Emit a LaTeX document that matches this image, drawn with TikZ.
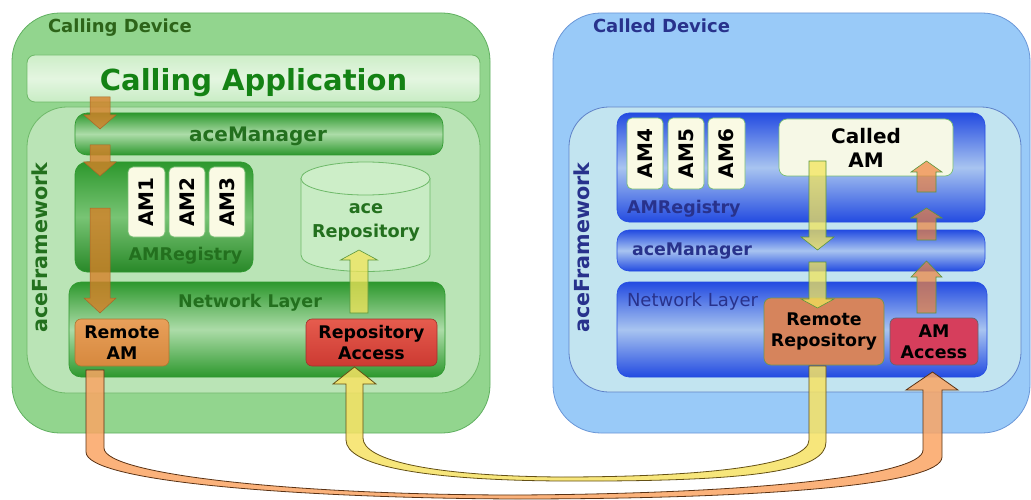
\documentclass[tikz,border=0pt]{standalone}
\usepackage{fontspec}
\setmainfont{DejaVu Sans}
\definecolor{gOuter}{RGB}{146,213,142}
\definecolor{gOB}{RGB}{95,175,95}
\definecolor{gFrame}{RGB}{186,228,182}
\definecolor{gFB}{RGB}{110,185,105}
\definecolor{gDark}{RGB}{45,152,45}
\definecolor{gLight}{RGB}{172,220,168}
\definecolor{gMid}{RGB}{120,196,116}
\definecolor{gText}{RGB}{35,112,30}
\definecolor{gTextD}{RGB}{45,100,25}
\definecolor{gApp}{RGB}{20,130,20}
\definecolor{bOuter}{RGB}{153,202,248}
\definecolor{bOB}{RGB}{105,150,215}
\definecolor{bFrame}{RGB}{194,228,240}
\definecolor{bFB}{RGB}{95,130,200}
\definecolor{bDark}{RGB}{35,75,225}
\definecolor{bLight}{RGB}{168,196,240}
\definecolor{bText}{RGB}{40,50,140}
\definecolor{cream}{RGB}{250,250,228}
\definecolor{amB}{RGB}{120,190,115}
\definecolor{oArr}{RGB}{214,128,40}
\definecolor{oArrB}{RGB}{170,100,40}
\definecolor{yArr}{RGB}{242,228,90}
\definecolor{arrG}{RGB}{90,150,60}
\definecolor{bigOF}{RGB}{250,165,100}
\definecolor{bigOD}{RGB}{90,50,20}
\definecolor{bigYF}{RGB}{246,226,100}
\definecolor{bigYD}{RGB}{100,80,20}
\newcommand\fsz[2]{\fontsize{#1}{#2}\selectfont}
\newcommand\blockarr[7][]{%
  \draw[#1] ({#2-#3},#5) -- ({#2-#3},#6) -- ({#2-#4},#6) -- (#2,#7) -- ({#2+#4},#6) -- ({#2+#3},#6) -- ({#2+#3},#5) -- cycle;}
\begin{document}
\begin{tikzpicture}[x=1pt,y=-1pt,
  every node/.style={inner sep=0pt, outer sep=0pt},
  devG/.style={draw=gOB, line width=0.8pt, fill=gOuter, rounded corners=48pt},
  frameG/.style={draw=gFB, line width=0.8pt, fill=gFrame, rounded corners=40pt},
  appbar/.style={draw=gFB, line width=0.8pt, rounded corners=8pt, top color={rgb,255:red,205;green,238;blue,200}, bottom color={rgb,255:red,200;green,236;blue,196}, middle color={rgb,255:red,228;green,246;blue,225}},
  gbar/.style={draw=gDark, line width=0.6pt, rounded corners=12pt, top color=gDark, bottom color=gDark, middle color=gLight},
  gbar2/.style={draw=gDark, line width=0.6pt, rounded corners=12pt, top color=gDark, bottom color=gDark!90!black, middle color=gMid},
  devB/.style={draw=bOB, line width=0.8pt, fill=bOuter, rounded corners=48pt},
  frameB/.style={draw=bFB, line width=0.8pt, fill=bFrame, rounded corners=40pt},
  bbar/.style={draw=bDark, line width=0.6pt, rounded corners=12pt, top color=bDark, bottom color=bDark, middle color=bLight},
  ambox/.style={draw=amB, line width=0.7pt, fill=cream, rounded corners=5pt, font=\bfseries\fsz{20}{24}, rotate=90},
  bl/.style={font=\bfseries\fsz{17.4}{21}, align=center, text=black},
  oarr/.style={fill=oArr, fill opacity=0.8, draw=oArrB, line width=0.5pt},
  yarr/.style={fill=yArr, fill opacity=0.75, draw=arrG, line width=0.6pt},
  oarrR/.style={fill={rgb,255:red,240;green,130;blue,60}, fill opacity=0.7, draw=arrG, line width=0.6pt},
  bigO/.style={fill=bigOF, fill opacity=0.85, draw=bigOD, line width=0.8pt},
  bigY/.style={fill=bigYF, fill opacity=0.85, draw=bigYD, line width=0.8pt}]
\useasboundingbox (0,0) rectangle (1031,500);

% ---------------- Calling device ----------------
\node[devG, minimum width=478pt, minimum height=420pt] (calldev) at (251,223) {};
\node[anchor=base west, font=\bfseries\fsz{18}{22}, text=gTextD] (calldevlbl) at (48,33) {Calling Device};
\node[appbar, minimum width=453pt, minimum height=47pt] (app) at (253.5,78.5) {};
\node[anchor=base, font=\bfseries\fsz{29}{34}, text=gApp] (applbl) at (253.5,91) {Calling Application};
\node[frameG, minimum width=453pt, minimum height=286pt] (frameL) at (253.5,250) {};
\node[rotate=90, font=\bfseries\fsz{20.7}{24}, text=gText] (fwL) at (40,247.5) {aceFramework};
\node[gbar, minimum width=368pt, minimum height=42pt] (mgrL) at (259,134) {};
\node[anchor=base, font=\bfseries\fsz{20}{24}, text=gText] (mgrLlbl) at (258,142) {aceManager};
\node[gbar2, minimum width=178pt, minimum height=110pt] (regL) at (164,217) {};
\node[ambox, minimum width=70pt, minimum height=37pt] (am1) at (146.5,202) {AM1};
\node[ambox, minimum width=70pt, minimum height=36pt] (am2) at (187,202) {AM2};
\node[ambox, minimum width=70pt, minimum height=36pt] (am3) at (227,202) {AM3};
\node[anchor=base, font=\bfseries\fsz{17.5}{21}, text=gText] (regLlbl) at (185.5,260) {AMRegistry};
% cylinder
\fill[fill={rgb,255:red,200;green,236;blue,196}, draw=gFB, line width=0.8pt]
  (301,178.5) -- (301,255) .. controls (301,277) and (430,277) .. (430,255) -- (430,178.5) -- cycle;
\draw[fill={rgb,255:red,205;green,238;blue,200}, draw=gFB, line width=0.8pt] (365.5,178.5) ellipse [x radius=64.5, y radius=16.5];
\node[font=\bfseries\fsz{17.7}{24}, text=gText, align=center] (repo) at (366,222) {ace\\Repository};
\node[gbar, minimum width=376pt, minimum height=95pt] (netL) at (257,329.5) {};
\node[anchor=base, font=\bfseries\fsz{17.5}{21}, text=gText] (netLlbl) at (250,307) {Network Layer};
\node[bl, draw={rgb,255:red,170;green,120;blue,50}, line width=0.6pt, rounded corners=6pt, top color={rgb,255:red,232;green,160;blue,90}, bottom color={rgb,255:red,214;green,136;blue,62}, minimum width=94pt, minimum height=47pt] (remAM) at (122,342.5) {Remote\\AM};
\node[bl, draw={rgb,255:red,160;green,50;blue,45}, line width=0.6pt, rounded corners=6pt, top color={rgb,255:red,230;green,92;blue,78}, bottom color={rgb,255:red,204;green,58;blue,50}, minimum width=131pt, minimum height=47pt] (repAcc) at (371.5,342.5) {Repository\\Access};

% small arrows left
\blockarr[oarr]{100}{10}{16}{97}{115}{129}
\blockarr[oarr]{100}{10}{16}{145}{162}{176}
\blockarr[oarr]{100}{10}{16}{208}{298}{313}
\blockarr[yarr]{359}{9}{18.5}{313}{260}{250}

% ---------------- Called device ----------------
\node[devB, minimum width=477pt, minimum height=420pt] (calleddev) at (791.5,223) {};
\node[anchor=base west, font=\bfseries\fsz{18}{22}, text=bText] (calleddevlbl) at (593,33) {Called Device};
\node[frameB, minimum width=452pt, minimum height=285pt] (frameR) at (795,249.5) {};
\node[rotate=90, font=\bfseries\fsz{20.7}{24}, text=bText] (fwR) at (582,247.5) {aceFramework};
\node[bbar, minimum width=368pt, minimum height=109pt] (regR) at (801,167.5) {};
\node[ambox, minimum width=71pt, minimum height=36pt] (am4) at (645,153.5) {AM4};
\node[ambox, minimum width=71pt, minimum height=36pt] (am5) at (686,153.5) {AM5};
\node[ambox, minimum width=71pt, minimum height=37pt] (am6) at (726.5,153.5) {AM6};
\node[anchor=base west, font=\bfseries\fsz{17.5}{21}, text=bText] (regRlbl) at (627,213) {AMRegistry};
\node[draw=amB, line width=0.7pt, fill={rgb,255:red,246;green,248;blue,230}, rounded corners=8pt, minimum width=174pt, minimum height=57pt, font=\bfseries\fsz{20}{24}, align=center] (calledAM) at (866,147.5) {Called\\AM};
\node[bbar, minimum width=368pt, minimum height=41pt] (mgrR) at (801,250.5) {};
\node[anchor=base west, font=\bfseries\fsz{17.4}{21}, text=bText] (mgrRlbl) at (632,255.5) {aceManager};
\node[bbar, minimum width=370pt, minimum height=95pt] (netR) at (802,329.5) {};
\node[anchor=base west, font=\fsz{18}{22}, text=bText] (netRlbl) at (627,306) {Network Layer};
\node[bl, draw={rgb,255:red,110;green,150;blue,80}, line width=0.7pt, rounded corners=7pt, fill={rgb,255:red,214;green,132;blue,92}, minimum width=120pt, minimum height=67pt] (remRep) at (824,331.5) {Remote\\Repository};
\node[bl, draw={rgb,255:red,100;green,100;blue,110}, line width=0.7pt, rounded corners=6pt, fill={rgb,255:red,214;green,62;blue,92}, minimum width=88pt, minimum height=47pt] (amAcc) at (934,341.5) {AM\\Access};

% small arrows right
\blockarr[yarr]{817.5}{8.5}{16.5}{161}{237}{250}
\blockarr[yarr]{817.5}{8.5}{16.5}{262}{299}{308}
\blockarr[oarrR]{926.5}{9.5}{15.5}{313}{277}{261}
\blockarr[oarrR]{926.5}{9.5}{15.5}{240}{218}{208}
\blockarr[oarrR]{926.5}{9.5}{15.5}{192}{172}{161}

% ---------------- big connectors ----------------
\coordinate (oStart) at (remAM.south);
\coordinate (yStart) at (remRep.south);
\filldraw[bigO] (86,370) -- (86,452) .. controls (86,482) and (300,498) .. (515,499)
  .. controls (760,499) and (942,485) .. (942,457) -- (942,390) -- (958,390) -- (932.5,372)
  -- (906,390) -- (923,390) -- (923,450) .. controls (923,477) and (740,494) .. (515,495)
  .. controls (300,495) and (104,475) .. (104,448) -- (104,370) -- cycle;
\filldraw[bigY] (346,384) -- (346,440) .. controls (346,465) and (420,480) .. (560,481)
  .. controls (760,482) and (826,470) .. (826,442) -- (826,366) -- (809,366) -- (809,440)
  .. controls (809,463) and (720,477) .. (560,477) .. controls (430,476) and (363,460) .. (363,438)
  -- (363,384) -- (376,384) -- (354.5,367) -- (333,384) -- cycle;
\end{tikzpicture}
\end{document}
